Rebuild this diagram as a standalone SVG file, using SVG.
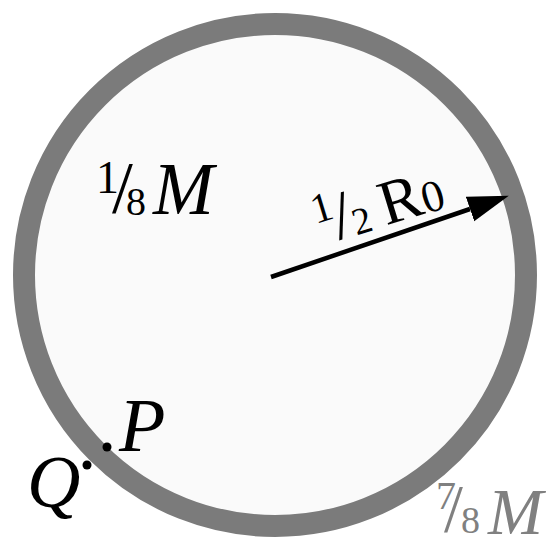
<svg xmlns="http://www.w3.org/2000/svg" width="548" height="538" viewBox="0 0 548 538">
<style>
.t{font-family:"Liberation Serif","Times New Roman",serif;fill:#000}
.i{font-style:italic}
.g{fill:#808080}
</style>
<defs>
<marker id="ah" markerUnits="userSpaceOnUse" markerWidth="42" markerHeight="28" viewBox="0 0 42 28" refX="0" refY="14" orient="auto">
<path d="M0,1 L41,14 L0,27 Z" fill="#000"/>
</marker>
</defs>
<rect width="548" height="538" fill="#fff"/>
<g id="shell">
<circle cx="275" cy="275" r="251" fill="#fafafa" stroke="#7b7b7b" stroke-width="22"/>
</g>
<g id="connectors">
<line x1="271" y1="277" x2="470" y2="209" stroke="#000" stroke-width="4.5" marker-end="url(#ah)"/>
</g>
<g id="label-inner-mass">
<text class="t" x="96" y="193" font-size="46">1</text>
<text class="t" x="112" y="213" font-size="75">/</text>
<text class="t" x="126" y="215" font-size="40">8</text>
<text class="t i" x="153" y="214" font-size="73">M</text>
</g>
<g id="label-radius" transform="translate(384,226) rotate(-17)">
<text class="t" x="-65" y="-22" font-size="42">1</text>
<text class="t" x="-47" y="0" font-size="68">/</text>
<text class="t" x="-29" y="1" font-size="38">2</text>
<text class="t" x="2" y="0" font-size="63">R</text>
<text class="t" x="44" y="1" font-size="45">0</text>
</g>
<g id="point-P">
<circle cx="107" cy="447" r="4.5" fill="#000"/>
<text class="t i" x="119" y="451" font-size="76">P</text>
</g>
<g id="point-Q">
<circle cx="87" cy="465" r="4.5" fill="#000"/>
<text class="t i" x="27" y="507" font-size="74">Q</text>
</g>
<g id="label-shell-mass">
<text class="t g" x="436" y="509" font-size="40">7</text>
<text class="t g" x="444" y="531" font-size="68">/</text>
<text class="t g" x="461" y="533" font-size="38">8</text>
<text class="t g i" x="488" y="534" font-size="66">M</text>
</g>
</svg>
